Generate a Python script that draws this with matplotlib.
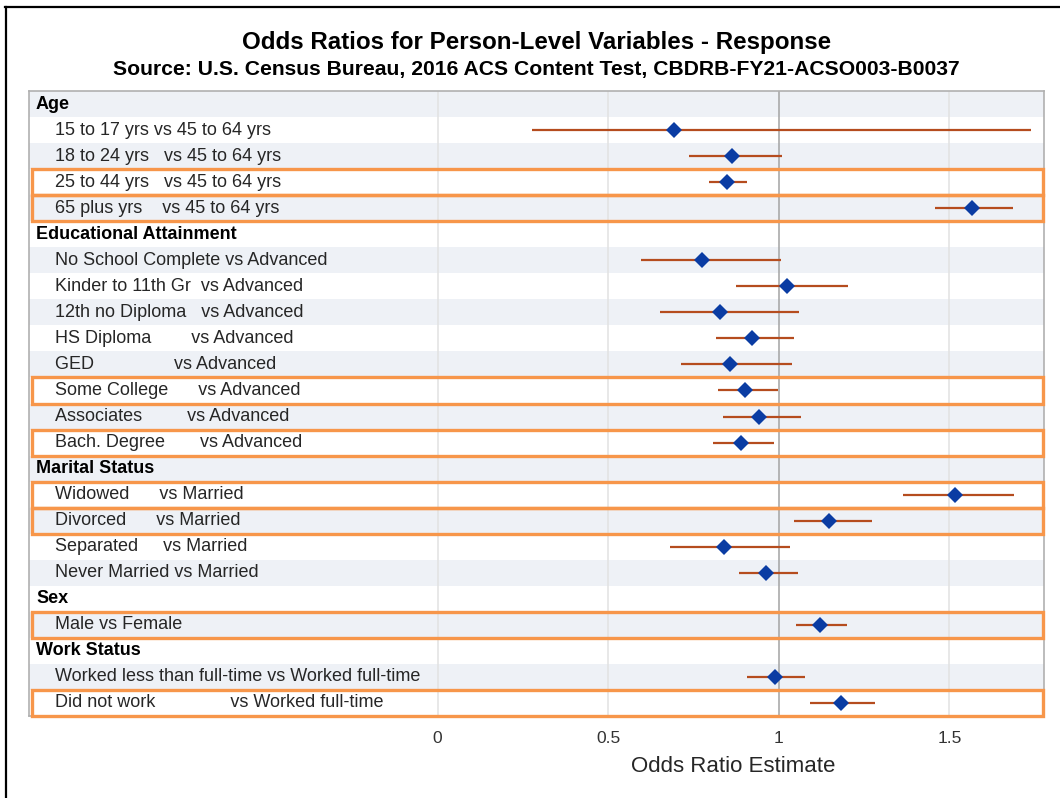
import matplotlib.pyplot as plt
from matplotlib.lines import Line2D
from matplotlib.patches import Rectangle
import matplotlib.transforms as mtransforms

plt.rcParams['font.family'] = ['Liberation Sans', 'DejaVu Sans']

# ---- data ----
groups = ["Age", "Educational Attainment", "Marital Status", "Sex", "Work Status"]
group_sizes = [4, 8, 4, 1, 2]

labels = [
    "15 to 17 yrs vs 45 to 64 yrs",
    "18 to 24 yrs   vs 45 to 64 yrs",
    "25 to 44 yrs   vs 45 to 64 yrs",
    "65 plus yrs    vs 45 to 64 yrs",
    "No School Complete vs Advanced",
    "Kinder to 11th Gr  vs Advanced",
    "12th no Diploma   vs Advanced",
    "HS Diploma        vs Advanced",
    "GED                vs Advanced",
    "Some College      vs Advanced",
    "Associates         vs Advanced",
    "Bach. Degree       vs Advanced",
    "Widowed      vs Married",
    "Divorced      vs Married",
    "Separated     vs Married",
    "Never Married vs Married",
    "Male vs Female",
    "Worked less than full-time vs Worked full-time",
    "Did not work               vs Worked full-time",
]
estimate = [0.692, 0.862, 0.848, 1.566,
            0.775, 1.023, 0.829, 0.921, 0.858, 0.900, 0.941, 0.888,
            1.517, 1.148, 0.838, 0.963,
            1.121,
            0.989, 1.183]
lower = [0.277, 0.738, 0.795, 1.457,
         0.597, 0.874, 0.651, 0.817, 0.714, 0.822, 0.836, 0.806,
         1.365, 1.044, 0.680, 0.884,
         1.049,
         0.908, 1.092]
upper = [1.739, 1.010, 0.908, 1.685,
         1.005, 1.204, 1.059, 1.044, 1.039, 0.999, 1.064, 0.986,
         1.690, 1.272, 1.034, 1.055,
         1.200,
         1.077, 1.282]
highlight = [False, False, True, True,
             False, False, False, False, False, True, False, True,
             True, True, False, False,
             True,
             False, True]
xticks = [0, 0.5, 1, 1.5]
xticklabels = ["0", "0.5", "1", "1.5"]

# ---- lay the rows out: header row, then its comparisons ----
rows = []  # (text, is_header, index into data or None)
k = 0
for g, n in zip(groups, group_sizes):
    rows.append((g, True, None))
    for _ in range(n):
        rows.append((labels[k], False, k))
        k += 1
nrows = len(rows)

W, H = 1060, 798
fig = plt.figure(figsize=(W / 100, H / 100), dpi=100)
L, R, T, B = 29, 1044, 91, 716
ax = fig.add_axes([L / W, 1 - B / H, (R - L) / W, (B - T) / H])

xmin = -1.197
xmax = 1.777
ax.set_xlim(xmin, xmax)
ax.set_ylim(nrows - 0.5, -0.5)

# alternating bands
for i in range(nrows):
    if i % 2 == 0:
        ax.axhspan(i - 0.5, i + 0.5, color='#eef1f6', lw=0, zorder=0)

# grid + reference line
for xv in xticks:
    if xv == 1:
        ax.axvline(xv, color='#a3a3a3', lw=1.1, zorder=1)
    else:
        ax.axvline(xv, color='#e2e2e2', lw=1.1, zorder=1)

blend = mtransforms.blended_transform_factory(ax.transAxes, ax.transData)

ys, est, lo, hi = [], [], [], []
for i, (text, is_header, idx) in enumerate(rows):
    if is_header:
        ax.text(0.0069, i, text, transform=blend, ha='left', va='center',
                fontsize=13, fontweight='bold', color='black')
    else:
        ax.text(0.0256, i, text, transform=blend, ha='left', va='center',
                fontsize=13, color='#262626')
        ys.append(i)
        est.append(estimate[idx])
        lo.append(lower[idx])
        hi.append(upper[idx])
        if highlight[idx]:
            ax.add_patch(Rectangle((0.003, i - 0.5), 0.996, 1.0, transform=blend,
                                   fill=False, edgecolor='#f7964a', lw=2.4,
                                   zorder=5, clip_on=False))

ax.hlines(ys, lo, hi, color='#b54c1e', lw=1.6, zorder=3)
ax.plot(est, ys, linestyle='none', marker='D', markersize=8.6,
        color='#0a3ca3', markeredgewidth=0, zorder=4)

ax.set_yticks([])
ax.set_xticks(xticks)
ax.set_xticklabels(xticklabels)
ax.tick_params(axis='x', length=0, pad=11, labelsize=12.5, labelcolor='#333333')
for s in ax.spines.values():
    s.set_color('#b0b0b0')
    s.set_linewidth(1.2)

fig.text(733 / W, 1 - 767 / H, "Odds Ratio Estimate", ha='center', va='center',
         fontsize=16, color='#262626')
fig.text(536.5 / W, 1 - 42 / H, "Odds Ratios for Person-Level Variables - Response",
         ha='center', va='center', fontsize=17.4, fontweight='bold')
fig.text(536.5 / W, 1 - 70 / H,
         "Source: U.S. Census Bureau, 2016 ACS Content Test, CBDRB-FY21-ACSO003-B0037",
         ha='center', va='center', fontsize=15.2, fontweight='bold')

# outer frame (top and left only)
fig.add_artist(Line2D([5 / W, 1], [1 - 7 / H, 1 - 7 / H], transform=fig.transFigure,
                      color='black', lw=1.6))
fig.add_artist(Line2D([6 / W, 6 / W], [1 - 7 / H, 0], transform=fig.transFigure,
                      color='black', lw=1.6))

fig.savefig('out.png', dpi=100)
